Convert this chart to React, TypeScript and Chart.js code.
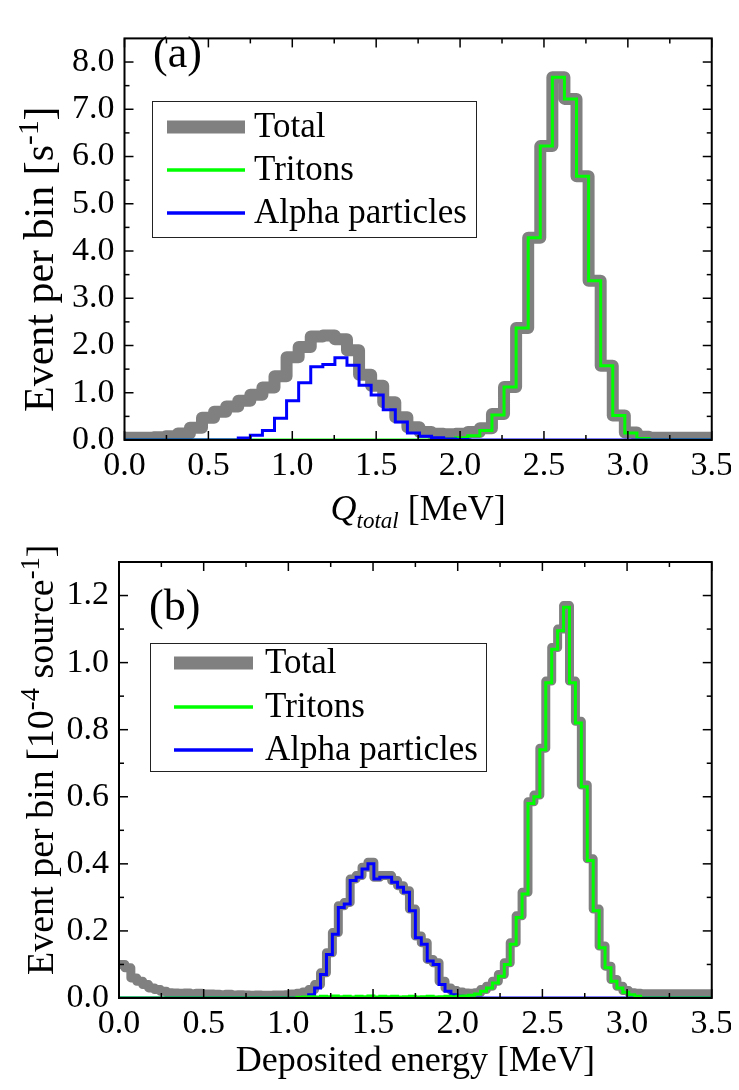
import React, { useEffect, useRef } from "react";
import { Chart, registerables } from "chart.js";

Chart.register(...registerables);

const FONT = "'Liberation Serif', 'Times New Roman', serif";

// ---------- Panel (a): Q_total histogram ----------
const binStartA = -0.042;
const binWidthA = 0.072;
const totalA = [
  0.05, 0.05, 0.05, 0.06, 0.08, 0.14, 0.26, 0.47, 0.6, 0.71,
  0.83, 0.96, 1.11, 1.35, 1.75, 1.97, 2.19, 2.21, 2.13, 1.9,
  1.38, 1.15, 0.8, 0.48, 0.27, 0.17, 0.13, 0.12, 0.13, 0.17,
  0.25, 0.55, 1.12, 2.37, 4.28, 6.22, 7.68, 7.22, 5.58, 3.37,
  1.57, 0.52, 0.16, 0.07, 0.05, 0.05, 0.05, 0.05, 0.05, 0.05,
];
const tritonA = [
  0, 0, 0, 0, 0, 0, 0, 0, 0, 0,
  0, 0, 0, 0, 0, 0, 0, 0, 0, 0,
  0, 0, 0, 0, 0, 0, 0, 0.02, 0.05, 0.09,
  0.2, 0.53, 1.12, 2.37, 4.28, 6.22, 7.68, 7.22, 5.58, 3.37,
  1.57, 0.52, 0.15, 0.03, 0, 0, 0, 0, 0, 0,
];
const alphaA = [
  0, 0, 0, 0, 0, 0, 0, 0, 0, 0,
  0.04, 0.1, 0.2, 0.46, 0.83, 1.21, 1.55, 1.6, 1.74, 1.58,
  1.16, 0.95, 0.64, 0.38, 0.15, 0.08, 0.05, 0.02, 0.01, 0,
  0, 0, 0, 0, 0, 0, 0, 0, 0, 0,
  0, 0, 0, 0, 0, 0, 0, 0, 0, 0,
];
const yTicksA = [0, 1, 2, 3, 4, 5, 6, 7, 8];
const yMinorA = [0.5, 1.5, 2.5, 3.5, 4.5, 5.5, 6.5, 7.5];

// ---------- Panel (b): deposited energy histogram ----------
const binStartB = 0;
const binWidthB = 0.035;
const totalB = [
  0.1, 0.09, 0.06, 0.05, 0.04, 0.03, 0.025, 0.02, 0.016, 0.015,
  0.014, 0.015, 0.013, 0.014, 0.012, 0.012, 0.011, 0.01, 0.011, 0.009,
  0.01, 0.009, 0.008, 0.009, 0.008, 0.008, 0.009, 0.009, 0.01, 0.012,
  0.014, 0.018, 0.025, 0.04, 0.075, 0.135, 0.195, 0.275, 0.285, 0.355,
  0.365, 0.39, 0.405, 0.36, 0.365, 0.365, 0.35, 0.335, 0.32, 0.265,
  0.185, 0.165, 0.115, 0.105, 0.05, 0.03, 0.022, 0.018, 0.015, 0.014,
  0.016, 0.025, 0.035, 0.05, 0.07, 0.105, 0.165, 0.245, 0.315, 0.585,
  0.605, 0.745, 0.945, 1.045, 1.1, 1.17, 0.945, 0.825, 0.635, 0.415,
  0.265, 0.155, 0.095, 0.055, 0.035, 0.022, 0.016, 0.014, 0.013, 0.013,
  0.013, 0.013, 0.013, 0.013, 0.013, 0.013, 0.013, 0.013, 0.013, 0.013,
];
const tritonB = [
  0, 0, 0, 0, 0, 0, 0, 0, 0, 0,
  0, 0, 0, 0, 0, 0, 0, 0, 0, 0,
  0, 0, 0, 0, 0, 0, 0, 0, 0, 0,
  0.002, 0.003, 0.004, 0.003, 0.005, 0.004, 0.006, 0.004, 0.005, 0.003,
  0.005, 0.004, 0.006, 0.003, 0.005, 0.004, 0.005, 0.003, 0.004, 0.005,
  0.003, 0.004, 0.005, 0.003, 0.004, 0.005, 0.004, 0.005, 0.006, 0.008,
  0.012, 0.02, 0.03, 0.045, 0.065, 0.1, 0.16, 0.24, 0.31, 0.58,
  0.6, 0.74, 0.94, 1.04, 1.095, 1.165, 0.94, 0.82, 0.63, 0.41,
  0.26, 0.15, 0.09, 0.05, 0.03, 0.017, 0.01, 0.005, 0, 0,
  0, 0, 0, 0, 0, 0, 0, 0, 0, 0,
];
const alphaB = [
  0, 0, 0, 0, 0, 0, 0, 0, 0, 0,
  0, 0, 0, 0, 0, 0, 0, 0, 0, 0,
  0, 0, 0, 0, 0, 0, 0, 0, 0, 0,
  0, 0, 0.01, 0.03, 0.07, 0.13, 0.19, 0.27, 0.28, 0.35,
  0.36, 0.385, 0.4, 0.355, 0.36, 0.36, 0.345, 0.33, 0.315, 0.26,
  0.18, 0.16, 0.11, 0.1, 0.04, 0.02, 0.01, 0.005, 0, 0,
  0, 0, 0, 0, 0, 0, 0, 0, 0, 0,
  0, 0, 0, 0, 0, 0, 0, 0, 0, 0,
  0, 0, 0, 0, 0, 0, 0, 0, 0, 0,
  0, 0, 0, 0, 0, 0, 0, 0, 0, 0,
];
const yTicksB = [0, 0.2, 0.4, 0.6, 0.8, 1.0, 1.2];
const yMinorB = [0.1, 0.3, 0.5, 0.7, 0.9, 1.1];

// ---------- shared ----------
const xTicks = [0, 0.5, 1.0, 1.5, 2.0, 2.5, 3.0, 3.5];
const xMinor = [0.25, 0.75, 1.25, 1.75, 2.25, 2.75, 3.25];
const seriesNames = ["Total", "Tritons", "Alpha particles"];
const COLORS = { total: "#808080", triton: "#00ff00", alpha: "#0000ff" };

type Part = { t: string; it?: boolean; sup?: boolean; sub?: boolean };

function steps(start: number, width: number, vals: number[]) {
  const pts = vals.map((v, i) => ({ x: start + i * width, y: v }));
  pts.push({ x: start + vals.length * width, y: vals[vals.length - 1] });
  return pts;
}

function drawRich(
  ctx: CanvasRenderingContext2D,
  parts: Part[],
  x0: number,
  baseline: number,
  size: number,
  align: "center" | "left",
  small: number
) {
  let total = 0;
  const items = parts.map((p) => {
    const s = p.sup || p.sub ? size * small : size;
    const font = `${p.it ? "italic " : ""}${s}px ${FONT}`;
    ctx.font = font;
    const w = ctx.measureText(p.t).width;
    total += w;
    return { p, font, w };
  });
  let x = align === "center" ? x0 - total / 2 : x0;
  ctx.textAlign = "left";
  ctx.textBaseline = "alphabetic";
  items.forEach(({ p, font, w }) => {
    ctx.font = font;
    const dy = p.sup ? -size * 0.36 : p.sub ? size * 0.22 : 0;
    ctx.fillText(p.t, x, baseline + dy);
    x += w;
  });
}

type PanelCfg = {
  label: string;
  yMajor: number[];
  yMinor: number[];
  xTitle: Part[];
  xTitleBaseline: number;
  yTitle: Part[];
  yTitleX: number;
  yTitleStart: number;
  yTitleSize: number;
  legend: { x: number; y: number; w: number; h: number; rows: number[]; lx1: number; lx2: number; tx: number };
  labelPos: { x: number; y: number };
};

function makeFrame(cfg: PanelCfg) {
  return {
    id: "frame",
    afterDatasetsDraw(chart: any) {
      const { ctx, chartArea: ca, scales } = chart;
      const xs = scales.x;
      const ys = scales.y;
      ctx.save();
      ctx.strokeStyle = "#000";
      ctx.lineWidth = 1.5;
      const seg = (x1: number, y1: number, x2: number, y2: number) => {
        ctx.beginPath();
        ctx.moveTo(x1, y1);
        ctx.lineTo(x2, y2);
        ctx.stroke();
      };
      const xt = (vals: number[], len: number) =>
        vals.forEach((v) => {
          const p = xs.getPixelForValue(v);
          seg(p, ca.bottom, p, ca.bottom - len);
          seg(p, ca.top, p, ca.top + len);
        });
      const yt = (vals: number[], len: number) =>
        vals.forEach((v) => {
          const p = ys.getPixelForValue(v);
          seg(ca.left, p, ca.left + len, p);
          seg(ca.right, p, ca.right - len, p);
        });
      xt(xTicks, 9);
      xt(xMinor, 5);
      yt(cfg.yMajor, 9);
      yt(cfg.yMinor, 5);
      ctx.lineWidth = 2;
      ctx.strokeRect(ca.left, ca.top, ca.right - ca.left, ca.bottom - ca.top);

      // legend
      const L = cfg.legend;
      ctx.fillStyle = "#fff";
      ctx.fillRect(L.x, L.y, L.w, L.h);
      ctx.lineWidth = 1;
      ctx.strokeStyle = "#222";
      ctx.strokeRect(L.x + 0.5, L.y + 0.5, L.w, L.h);
      const legendStyles = [
        { c: COLORS.total, w: 13 },
        { c: COLORS.triton, w: 3.5 },
        { c: COLORS.alpha, w: 3.5 },
      ];
      seriesNames.forEach((name, i) => {
        const y = L.rows[i];
        ctx.strokeStyle = legendStyles[i].c;
        ctx.lineWidth = legendStyles[i].w;
        ctx.lineCap = "butt";
        seg(L.lx1, y, L.lx2, y);
        ctx.fillStyle = "#000";
        ctx.font = `35px ${FONT}`;
        ctx.textAlign = "left";
        ctx.textBaseline = "middle";
        ctx.fillText(name, L.tx, y + 1);
      });

      // panel label
      ctx.fillStyle = "#000";
      ctx.font = `44px ${FONT}`;
      ctx.textAlign = "left";
      ctx.textBaseline = "alphabetic";
      ctx.fillText(cfg.label, cfg.labelPos.x, cfg.labelPos.y);

      // axis titles
      drawRich(ctx, cfg.xTitle, (ca.left + ca.right) / 2, cfg.xTitleBaseline, 36, "center", 0.64);
      ctx.save();
      ctx.translate(cfg.yTitleX, cfg.yTitleStart);
      ctx.rotate(-Math.PI / 2);
      drawRich(ctx, cfg.yTitle, 0, 0, cfg.yTitleSize, "left", 0.7);
      ctx.restore();
      ctx.restore();
    },
  };
}

function buildConfig(
  total: number[],
  triton: number[],
  alpha: number[],
  start: number,
  width: number,
  yMax: number,
  yMajor: number[],
  axisW: number,
  axisH: number,
  padTop: number,
  greyWidth: number,
  alphaOnTop: boolean,
  cfg: PanelCfg
) {
  const greyDs = {
    label: seriesNames[0],
    data: steps(start, width, total),
    borderColor: COLORS.total,
    borderWidth: greyWidth,
    borderJoinStyle: "round",
    borderCapStyle: "round",
    stepped: true,
    pointRadius: 0,
    fill: false,
    clip: 0,
  };
  const tritonDs = {
    label: seriesNames[1],
    data: steps(start, width, triton),
    borderColor: COLORS.triton,
    borderWidth: 3,
    stepped: true,
    pointRadius: 0,
    fill: false,
  };
  const alphaDs = {
    label: seriesNames[2],
    data: steps(start, width, alpha),
    borderColor: COLORS.alpha,
    borderWidth: 3,
    stepped: true,
    pointRadius: 0,
    fill: false,
  };
  // first dataset is drawn on top
  const datasets = alphaOnTop ? [alphaDs, tritonDs, greyDs] : [tritonDs, alphaDs, greyDs];
  return {
    type: "line",
    data: { datasets },
    options: {
      responsive: false,
      animation: false,
      devicePixelRatio: 1,
      layout: { padding: { top: padTop, right: 25, left: 0, bottom: 0 } },
      plugins: { legend: { display: false }, tooltip: { enabled: false } },
      scales: {
        x: {
          type: "linear",
          min: 0,
          max: 3.5,
          grid: { display: false, drawTicks: false },
          border: { display: false },
          afterBuildTicks: (s: any) => {
            s.ticks = xTicks.map((v) => ({ value: v }));
          },
          afterFit: (s: any) => {
            s.height = axisH;
          },
          ticks: {
            autoSkip: false,
            maxRotation: 0,
            padding: 6,
            color: "#000",
            font: { family: FONT, size: 34 },
            callback: (v: any) => Number(v).toFixed(1),
          },
        },
        y: {
          type: "linear",
          min: 0,
          max: yMax,
          grid: { display: false, drawTicks: false },
          border: { display: false },
          afterBuildTicks: (s: any) => {
            s.ticks = yMajor.map((v) => ({ value: v }));
          },
          afterFit: (s: any) => {
            s.width = axisW;
          },
          ticks: {
            autoSkip: false,
            padding: 10,
            color: "#000",
            font: { family: FONT, size: 34 },
            callback: (v: any) => Number(v).toFixed(1),
          },
        },
      },
    },
    plugins: [makeFrame(cfg)],
  };
}

// canvas (b) starts at this offset (page y = 8 + offset); it overlaps (a)'s empty margin
const TOP_B = 492;
const HEIGHT_B = 582;

const cfgA: PanelCfg = {
  label: "(a)",
  yMajor: yTicksA,
  yMinor: yMinorA,
  xTitle: [{ t: "Q", it: true }, { t: "total", it: true, sub: true }, { t: " [MeV]" }],
  xTitleBaseline: 512,
  yTitle: [{ t: "Event per bin [s" }, { t: "-1", sup: true }, { t: "]" }],
  yTitleX: 45,
  yTitleStart: 404,
  yTitleSize: 42,
  legend: { x: 144, y: 93, w: 324, h: 136, rows: [119, 162, 205], lx1: 159, lx2: 237, tx: 246 },
  labelPos: { x: 145, y: 59 },
};

const cfgB: PanelCfg = {
  label: "(b)",
  yMajor: yTicksB,
  yMinor: yMinorB,
  xTitle: [{ t: "Deposited energy [MeV]" }],
  xTitleBaseline: 1071 - 8 - TOP_B,
  yTitle: [
    { t: "Event per bin [10" },
    { t: "-4", sup: true },
    { t: " source" },
    { t: "-1", sup: true },
    { t: "]" },
  ],
  yTitleX: 45,
  yTitleStart: 975 - 8 - TOP_B,
  yTitleSize: 38,
  legend: { x: 142, y: 643 - 8 - TOP_B, w: 336, h: 128, rows: [663 - 8 - TOP_B, 707 - 8 - TOP_B, 750 - 8 - TOP_B], lx1: 166, lx2: 245, tx: 257 },
  labelPos: { x: 141, y: 620 - 8 - TOP_B },
};

function Panel(props: { which: "a" | "b"; top: number; height: number }) {
  const ref = useRef<HTMLCanvasElement | null>(null);
  useEffect(() => {
    if (!ref.current) return;
    const config =
      props.which === "a"
        ? buildConfig(totalA, tritonA, alphaA, binStartA, binWidthA, 8.5, yTicksA, 116.5, 108, 2, 12, true, cfgA)
        : buildConfig(
            totalB, tritonB, alphaB, binStartB, binWidthB, 1.3, yTicksB, 111,
            props.height - (998 - 8 - TOP_B), 562 - 8 - TOP_B, 9, false, cfgB
          );
    const chart = new Chart(ref.current, config as any);
    return () => chart.destroy();
  }, [props.which, props.height]);
  return (
    <canvas
      ref={ref}
      width={731}
      height={props.height}
      style={{ position: "absolute", left: 0, top: props.top, width: 731, height: props.height }}
    />
  );
}

export default function App() {
  return (
    <div style={{ position: "relative", width: 731, height: 1074 }}>
      <Panel which="a" top={0} height={540} />
      <Panel which="b" top={TOP_B} height={HEIGHT_B} />
    </div>
  );
}
